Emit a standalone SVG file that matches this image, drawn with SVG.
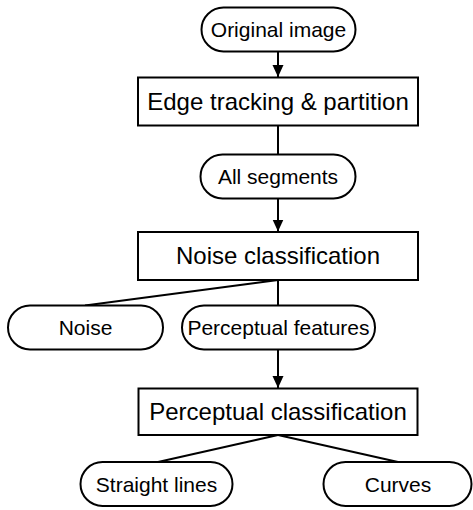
<svg xmlns="http://www.w3.org/2000/svg" width="473" height="510" viewBox="0 0 473 510">
<defs>
<marker id="arr" markerUnits="userSpaceOnUse" markerWidth="12" markerHeight="12" refX="12" refY="6" orient="auto">
<path d="M0,0.5 L12,6 L0,11.5 Z" fill="#000"/>
</marker>
<style>
.shape{fill:#fff;stroke:#000;stroke-width:2}
.ln{stroke:#000;stroke-width:2;fill:none}
.t{font-family:"Liberation Sans",Arial,sans-serif;fill:#000;text-anchor:middle}
.ps{font-size:21px}
.bs{font-size:24px}
</style>
</defs>
<rect width="473" height="510" fill="#fff"/>
<g id="connectors">
<line class="ln" x1="278" y1="52" x2="278" y2="77" marker-end="url(#arr)"/>
<line class="ln" x1="278" y1="126" x2="278" y2="154"/>
<line class="ln" x1="278" y1="199" x2="278" y2="231.5" marker-end="url(#arr)"/>
<line class="ln" x1="278" y1="280" x2="85" y2="305.5"/>
<line class="ln" x1="278" y1="280" x2="278" y2="305.5"/>
<line class="ln" x1="278" y1="350" x2="278" y2="388" marker-end="url(#arr)"/>
<line class="ln" x1="278" y1="435" x2="158" y2="462"/>
<line class="ln" x1="278" y1="435" x2="398" y2="462"/>
</g>
<g id="original-image">
<rect class="shape" x="201.5" y="7.5" width="154" height="44" rx="22"/>
<text class="t ps" x="278.5" y="37">Original image</text>
</g>
<g id="edge-tracking">
<rect class="shape" x="138" y="77.5" width="280" height="48"/>
<text class="t bs" x="278" y="110">Edge tracking &amp; partition</text>
</g>
<g id="all-segments">
<rect class="shape" x="200.5" y="154.5" width="155" height="44" rx="22"/>
<text class="t ps" x="278" y="184">All segments</text>
</g>
<g id="noise-classification">
<rect class="shape" x="138" y="232" width="280" height="48"/>
<text class="t bs" x="278" y="264">Noise classification</text>
</g>
<g id="noise">
<rect class="shape" x="8" y="305.5" width="155" height="44" rx="22"/>
<text class="t ps" x="85.5" y="335">Noise</text>
</g>
<g id="perceptual-features">
<rect class="shape" x="182" y="305.5" width="193" height="44" rx="22"/>
<text class="t ps" x="278.5" y="335">Perceptual features</text>
</g>
<g id="perceptual-classification">
<rect class="shape" x="138.5" y="388.5" width="279" height="46.5"/>
<text class="t bs" x="278" y="420">Perceptual classification</text>
</g>
<g id="straight-lines">
<rect class="shape" x="80.5" y="462" width="152" height="44" rx="22"/>
<text class="t ps" x="156.5" y="491.5">Straight lines</text>
</g>
<g id="curves">
<rect class="shape" x="323.5" y="462" width="148" height="44" rx="22"/>
<text class="t ps" x="398" y="491.5">Curves</text>
</g>
</svg>
